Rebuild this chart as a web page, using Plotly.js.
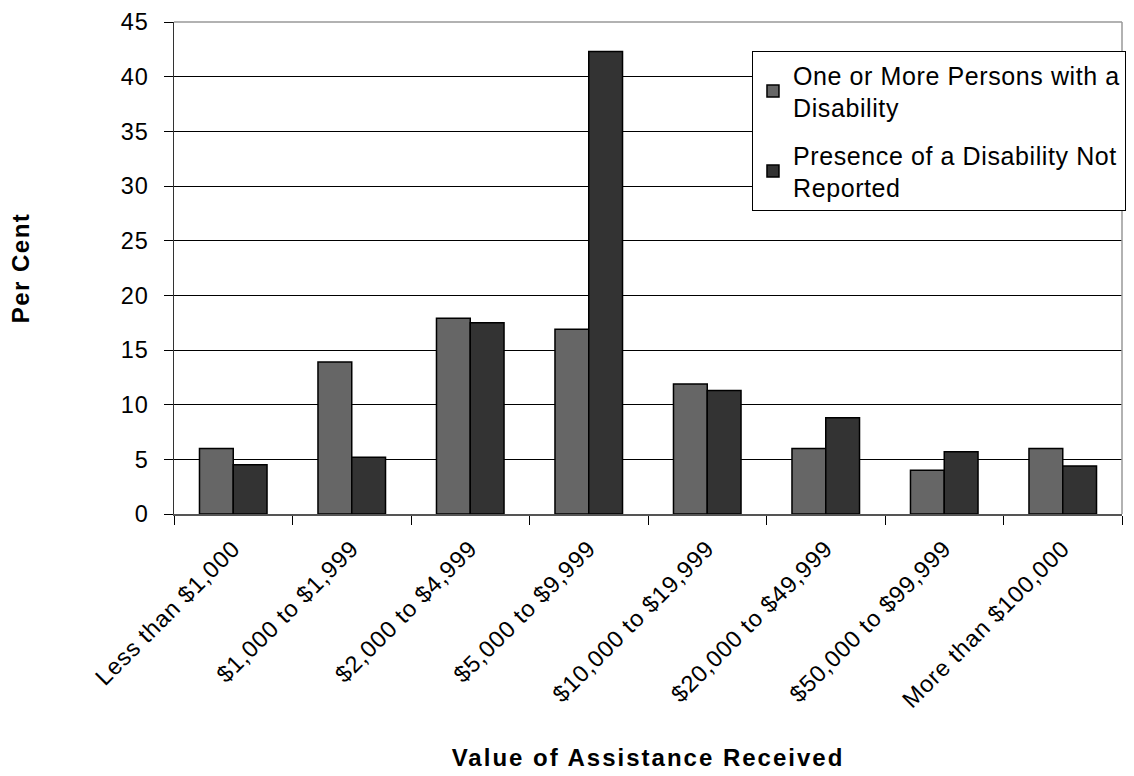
<!DOCTYPE html>
<html>
<head>
<meta charset="utf-8">
<script src="https://cdn.plot.ly/plotly-3.0.1.min.js"></script>
<style>
html,body{margin:0;padding:0;background:#fff;}
#chart{width:1134px;height:776px;}
.legendtext{letter-spacing:0.6px;}
.xtick text{letter-spacing:0.8px;}
.ytick text{letter-spacing:1px;}
.xtitle{letter-spacing:2px;}
.ytitle{letter-spacing:1.5px;}
</style>
</head>
<body>
<div id="chart"></div>
<script>
const categories = ["Less than $1,000", "$1,000 to $1,999", "$2,000 to $4,999", "$5,000 to $9,999", "$10,000 to $19,999", "$20,000 to $49,999", "$50,000 to $99,999", "More than $100,000"];
const seriesNames = ["One or More Persons with a<br>Disability", "Presence of a Disability Not<br>Reported"];
const withDisability = [6.0, 13.9, 17.9, 16.9, 11.9, 6.0, 4.0, 6.0];
const notReported = [4.5, 5.2, 17.5, 42.3, 11.3, 8.8, 5.7, 4.4];
const yTicks = [0, 5, 10, 15, 20, 25, 30, 35, 40, 45];

const font = "Liberation Sans, Arial, sans-serif";
const traces = [
  {type: "bar", name: seriesNames[0], legendgroup: "g1", x: categories, y: withDisability,
   marker: {color: "#666666", line: {color: "#000000", width: 1.5}}},
  {type: "bar", name: seriesNames[1], legendgroup: "g2", x: categories, y: notReported,
   marker: {color: "#333333", line: {color: "#000000", width: 1.5}}}
];
const layout = {
  width: 1134, height: 776,
  margin: {l: 174, r: 8, t: 22, b: 262},
  paper_bgcolor: "#ffffff", plot_bgcolor: "#ffffff",
  barmode: "group", bargap: 0.43, bargroupgap: 0,
  font: {family: font, color: "#000000", size: 23},
  showlegend: true,
  legend: {x: 1.0042, xanchor: "right", y: 0.941, yanchor: "top",
           bgcolor: "#ffffff", bordercolor: "#000000", borderwidth: 1,
           font: {family: font, size: 25, color: "#000000"},
           tracegroupgap: 12, traceorder: "grouped"},
  xaxis: {
    type: "category", tickangle: -45,
    tickfont: {family: font, size: 23.5, color: "#000000"},
    showline: true, linecolor: "#555555", linewidth: 1.5,
    ticks: "outside", ticklen: 9, tickcolor: "#000000",
    ticklabelstandoff: 10,
    tickson: "boundaries", showgrid: false, zeroline: false,
    title: {text: "<b>Value of Assistance Received</b>", font: {family: font, size: 24, color: "#000000"}, standoff: 37}
  },
  yaxis: {
    range: [0, 45], tickvals: yTicks, ticktext: yTicks.map(String),
    tickfont: {family: font, size: 23.5, color: "#000000"},
    showline: true, linecolor: "#333333", linewidth: 1.5,
    ticks: "outside", ticklen: 9, tickcolor: "#000000",
    ticklabelstandoff: 10,
    showgrid: true, gridcolor: "#000000", gridwidth: 1, zeroline: false,
    title: {text: "<b>Per Cent</b>", font: {family: font, size: 24, color: "#000000"}, standoff: 84}
  },
  shapes: [
    {type: "line", xref: "paper", yref: "paper", x0: 0, x1: 1, y0: 1, y1: 1, line: {color: "#999999", width: 1.5}},
    {type: "line", xref: "paper", yref: "paper", x0: 1, x1: 1, y0: 0, y1: 1, line: {color: "#999999", width: 1.5}}
  ]
};
Plotly.newPlot("chart", traces, layout, {displayModeBar: false, staticPlot: true});
</script>
</body>
</html>
